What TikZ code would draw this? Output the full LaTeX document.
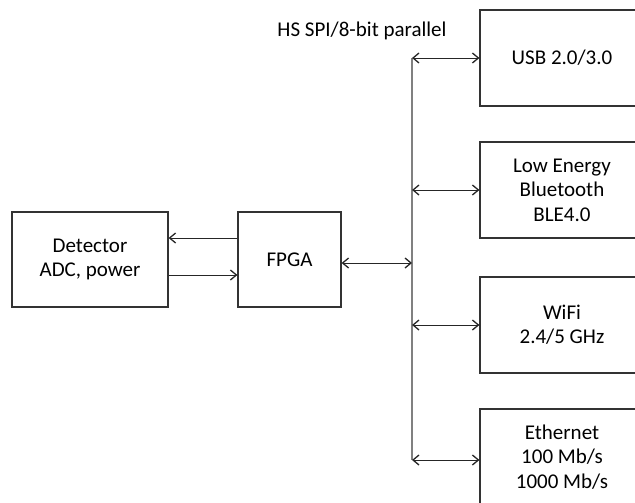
\documentclass[tikz,border=0pt]{standalone}
\usepackage{fontspec}
\setmainfont{Carlito}
\usetikzlibrary{arrows.meta}
\begin{document}
\begin{tikzpicture}[x=1pt, y=-1pt,
  block/.style={draw=black!80, line width=1.2pt, minimum width=#1, minimum height=96pt,
    align=center, inner sep=0pt, font=\fontsize{21}{24.4}\selectfont},
  block/.default=164pt,
  link/.style={draw=black!85, line width=0.9pt, -{Straight Barb[length=6pt, width=10pt, line width=1.3pt]}},
  dlink/.style={draw=black!85, line width=0.9pt, {Straight Barb[length=6pt, width=10pt, line width=1.3pt]}-{Straight Barb[length=6pt, width=10pt, line width=1.3pt]}}]
	\useasboundingbox (0,0) rectangle (635,503);
	% blocks
	\node[block=156pt, minimum height=95pt] (det)  at (90,259.5)  {Detector\\ADC, power};
	\node[block=103pt, minimum height=95pt] (fpga) at (289.5,259.5) {FPGA};
	\node[block] (usb) at (562,58)  {USB 2.0/3.0};
	\node[block] (ble) at (562,190) {Low Energy\\Bluetooth\\BLE4.0};
	\node[block] (wifi) at (562,325) {WiFi\\2.4/5 GHz};
	\node[block] (eth) at (562,457) {Ethernet\\100 Mb/s\\1000 Mb/s};
	\node[font=\fontsize{21}{24.4}\selectfont] (bus label) at (362,31) {HS SPI/8-bit parallel};
	% bus
	\coordinate (busx) at (412,0);
	\coordinate (bus usb)  at (busx |- usb);
	\coordinate (bus ble)  at (busx |- ble);
	\coordinate (bus fpga) at (412,263);
	\coordinate (bus wifi) at (busx |- wifi);
	\coordinate (bus eth)  at (412,460);
	\draw[gray, line width=1.2pt] (bus usb) -- (bus eth);
	% connections
	\coordinate (up)   at (0,238);
	\coordinate (down) at (0,275);
	\draw[link] (fpga.west |- up) -- (det.east |- up);
	\draw[link] (det.east |- down) -- (fpga.west |- down);
	\draw[dlink] (fpga.east |- bus fpga) -- (bus fpga);
	\draw[dlink] (bus usb) -- (usb.west |- bus usb);
	\draw[dlink] (bus ble) -- (ble.west |- bus ble);
	\draw[dlink] (bus wifi) -- (wifi.west |- bus wifi);
	\draw[dlink] (bus eth) -- (eth.west |- bus eth);
\end{tikzpicture}
\end{document}
